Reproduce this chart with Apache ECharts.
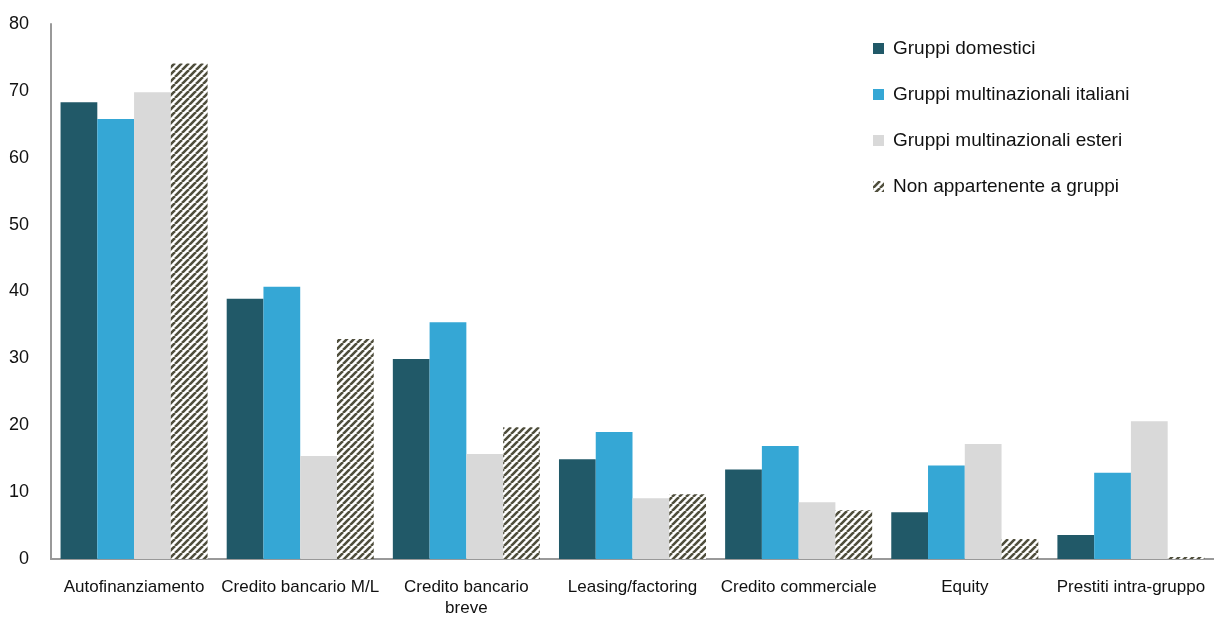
<!DOCTYPE html>
<html>
<head>
<meta charset="utf-8">
<script src="https://cdn.jsdelivr.net/npm/echarts@6/dist/echarts.min.js"></script>
<style>
  html, body { margin: 0; padding: 0; background: #fff; }
  #chart { width: 1214px; height: 619px; }
</style>
</head>
<body>
<div id="chart"></div>
<script>
// Fonti di finanziamento per tipologia di impresa (valori percentuali)
const categories = [
  'Autofinanziamento',
  'Credito bancario M/L',
  'Credito bancario\nbreve',
  'Leasing/factoring',
  'Credito commerciale',
  'Equity',
  'Prestiti intra-gruppo'
];
const seriesNames = [
  'Gruppi domestici',
  'Gruppi multinazionali italiani',
  'Gruppi multinazionali esteri',
  'Non appartenente a gruppi'
];
const gruppiDomestici = [68.3, 38.9, 29.9, 14.9, 13.4, 7.0, 3.6];
const multinazionaliItaliani = [65.8, 40.7, 35.4, 19.0, 16.9, 14.0, 12.9];
const multinazionaliEsteri = [69.8, 15.4, 15.7, 9.1, 8.5, 17.2, 20.6];
const nonAppartenenti = [74.1, 32.9, 19.7, 9.7, 7.3, 3.0, 0.3];
const yTicks = [0, 10, 20, 30, 40, 50, 60, 70, 80];

// Diagonal stripe fill for the last series
function stripePattern() {
  const s = 7;
  const c = document.createElement('canvas');
  c.width = s; c.height = s;
  const g = c.getContext('2d');
  g.fillStyle = '#ffffff';
  g.fillRect(0, 0, s, s);
  g.strokeStyle = '#4f4e3c';
  g.lineWidth = 2.6;
  g.beginPath();
  for (let k = -1; k <= 1; k++) {
    g.moveTo(k * s, s);
    g.lineTo(k * s + s, 0);
  }
  g.stroke();
  return c;
}

const colors = ['#215968', '#35a7d5', '#d9d9d9', { image: stripePattern(), repeat: 'repeat' }];
const values = [gruppiDomestici, multinazionaliItaliani, multinazionaliEsteri, nonAppartenenti];

const chart = echarts.init(document.getElementById('chart'), null, { renderer: 'canvas' });
const font = 'Liberation Sans, Arial, sans-serif';

chart.setOption({
  animation: false,
  textStyle: { fontFamily: font },
  grid: { left: 51, right: 0, top: 24, bottom: 60, containLabel: false },
  legend: {
    orient: 'vertical',
    left: 868,
    top: 34,
    itemWidth: 11,
    itemHeight: 11,
    itemGap: 27,
    icon: 'rect',
    textStyle: { fontSize: 19, color: '#111', fontFamily: font, padding: [0, 0, 0, 4] },
    data: seriesNames
  },
  xAxis: {
    type: 'category',
    data: categories,
    axisLine: { lineStyle: { color: '#999', width: 2 } },
    axisTick: { show: false },
    axisLabel: { fontSize: 17, color: '#111', margin: 18, lineHeight: 21, interval: 0 }
  },
  yAxis: {
    type: 'value',
    min: yTicks[0],
    max: yTicks[yTicks.length - 1],
    interval: 10,
    axisLine: { show: true, lineStyle: { color: '#999', width: 2 } },
    axisTick: { show: false },
    splitLine: { show: false },
    axisLabel: { fontSize: 18, color: '#111', margin: 22 }
  },
  series: seriesNames.map((name, i) => ({
    name,
    type: 'bar',
    data: values[i],
    barGap: '0%',
    barCategoryGap: '11.5%',
    itemStyle: { color: colors[i] }
  }))
});
</script>
</body>
</html>
